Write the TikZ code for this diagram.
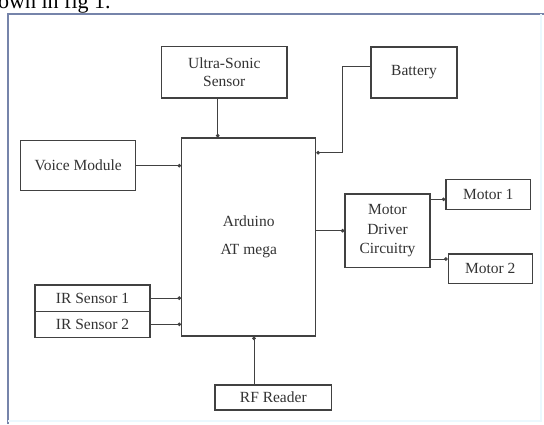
\documentclass[tikz,border=0pt]{standalone}
\usepackage{fontspec}
\setmainfont{Liberation Serif}
\usetikzlibrary{arrows.meta}
\definecolor{framecol}{RGB}{118,132,170}
\definecolor{linecol}{RGB}{65,65,65}
\tikzset{
  blk/.style={draw=linecol, line width=1.2pt, align=center, inner sep=0pt,
    font=\fontsize{15.5}{18.5}\selectfont, text=black!80},
  conn/.style={draw=linecol, line width=0.9pt, -{Circle[length=3.6pt]}},
}
\begin{document}
\begin{tikzpicture}[x=1pt, y=-1pt]
\useasboundingbox (0,0) rectangle (544,424);
\fill[white] (0,0) rectangle (544,424);
% caption fragment at top
\node[anchor=base west, inner sep=0pt, font=\fontsize{22}{24}\selectfont] (cap) at (-2,8) {own in fig 1.};
% frame
\draw[framecol, line width=1.6pt] (8,424) -- (8,14) -- (544,14);
\draw[cyan!8, line width=1.5pt] (541,14) -- (541,421) -- (8,421);
% blocks
\node[blk, minimum width=125.3pt, minimum height=51.3pt] (ultra) at (224.3,72.3) {Ultra-Sonic\\Sensor};
\node[blk, minimum width=86pt, minimum height=51pt] (battery) at (414,72.5) {Battery};
\node[blk, minimum width=134pt, minimum height=198pt, font=\fontsize{15.5}{28}\selectfont] (arduino) at (248.7,237) {Arduino\\AT mega};
\node[blk, minimum width=115pt, minimum height=50pt] (voice) at (78.2,165.7) {Voice Module};
\node[blk, minimum width=115pt, minimum height=26.2pt] (ir1) at (92.5,298.1) {IR Sensor 1};
\node[blk, minimum width=115pt, minimum height=26.2pt] (ir2) at (92.5,324.3) {IR Sensor 2};
\node[blk, minimum width=85pt, minimum height=73.3pt, font=\fontsize{15.5}{19.5}\selectfont] (driver) at (387.5,230.7) {Motor\\Driver\\Circuitry};
\node[blk, minimum width=84.7pt, minimum height=30pt] (motor1) at (488.3,194.3) {Motor 1};
\node[blk, minimum width=84pt, minimum height=29.3pt] (motor2) at (490.3,268.7) {Motor 2};
\node[blk, minimum width=116.7pt, minimum height=25pt] (rf) at (273.3,397.5) {RF Reader};
% connectors
\draw[conn] ([xshift=-6.6pt]ultra.south) -- ([xshift=-6.6pt]ultra.south |- arduino.north);
\draw[conn] ([yshift=5.8pt]battery.west) -- ++(-27.7,0) |- ([yshift=84.3pt]arduino.east);
\draw[conn] (voice.east) -- (voice.east -| arduino.west);
\draw[conn] (ir1.east) -- (ir1.east -| arduino.west);
\draw[conn] (ir2.east) -- (ir2.east -| arduino.west);
\draw[conn] (driver.west -| arduino.east) -- (driver.west);
\draw[conn] ([yshift=-5pt]motor1.west -| driver.east) -- ([yshift=-5pt]motor1.west);
\draw[conn] ([yshift=9.7pt]motor2.west -| driver.east) -- ([yshift=9.7pt]motor2.west);
\draw[conn] ([xshift=-19.3pt]rf.north) -- ([xshift=-19.3pt]rf.north |- arduino.south);
\end{tikzpicture}
\end{document}
